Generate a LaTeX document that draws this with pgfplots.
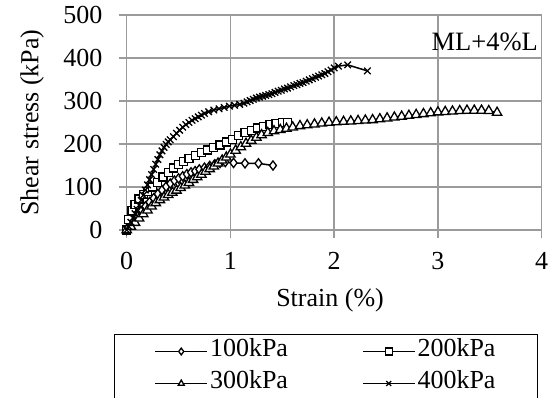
\documentclass[border=0pt]{standalone}
\usepackage{fontspec}
\setmainfont{Liberation Serif}
\usepackage{pgfplots}
\pgfplotsset{compat=1.18}
\definecolor{gridgray}{RGB}{155,155,155}
\begin{document}%
\begin{tikzpicture}[font=\fontsize{26bp}{31bp}\selectfont]
\begin{axis}[
  scale only axis, width=415bp, height=215bp,
  xmin=0, xmax=4, ymin=0, ymax=500,
  xtick={0,1,2,3,4}, ytick={0,100,200,300,400,500},
  font=\fontsize{26bp}{31bp}\selectfont,
  /pgf/number format/assume math mode=true,
  grid=major,
  major grid style={gridgray, line width=1.4bp},
  axis line style={gridgray, line width=1.4bp},
  tick style={gridgray, line width=1.4bp},
  tick align=outside, major tick length=8bp,
  xtick pos=bottom, ytick pos=left,
  yticklabel style={inner sep=0pt, anchor=east, xshift=-16bp},
  xticklabel style={inner sep=0pt, anchor=north, yshift=-14bp},
  xlabel={Strain (\%)}, ylabel={Shear stress (kPa)},
  every axis x label/.style={at={(axis description cs:0.49,-0.3256)}, anchor=center},
  every axis y label/.style={at={(axis description cs:-0.228,0.5)}, rotate=90, anchor=center},
  legend columns=2,
  legend style={draw=black, line width=1bp, fill=white,
    at={(-0.0306,-0.4837)}, anchor=north west,
    inner xsep=40bp, inner ysep=1bp,
    nodes={inner sep=2bp, text height=19bp, text depth=9bp},
    /tikz/every even column/.append style={column sep=72bp}},
  legend cell align=left,
  legend image code/.code={\draw[mark repeat=2,mark phase=2,#1,mark size=3.4bp] plot coordinates {(0bp,0bp) (26bp,0bp) (52bp,0bp)};},
  every axis plot/.append style={black, line width=1.5bp, mark options={solid, fill=white, line width=1.3bp}},
]
\addplot[mark=diamond*, mark size=4.6bp] coordinates {
(0,0) (0.03,10) (0.06,20) (0.1,32) (0.14,44) (0.18,55) (0.22,65) (0.26,74) (0.30,84) (0.34,93) (0.38,101) (0.42,108) (0.46,115) (0.50,120) (0.54,125) (0.58,130) (0.62,134) (0.66,137) (0.70,141) (0.75,145) (0.80,149) (0.85,153) (0.90,156) (0.95,158) (1.03,156) (1.14,155) (1.27,155) (1.41,150)
};
\addlegendentry{100kPa}
\addplot[mark=square*, mark size=4bp] coordinates {
(0,0) (0.02,25) (0.05,45) (0.08,60) (0.12,72) (0.16,82) (0.20,90) (0.25,100) (0.30,110) (0.35,123) (0.40,134) (0.45,144) (0.50,152) (0.55,160) (0.60,167) (0.66,174) (0.72,180) (0.78,186) (0.84,192) (0.90,198) (0.96,205) (1.02,211) (1.08,219) (1.14,226) (1.20,232) (1.26,237) (1.32,241) (1.38,245) (1.44,248) (1.50,250) (1.55,250)
};
\addlegendentry{200kPa}
\addplot[mark=triangle*, mark size=5.4bp] coordinates {
(0,0) (0.04,8) (0.08,17) (0.12,27) (0.16,37) (0.20,46) (0.24,55) (0.28,63) (0.32,70) (0.36,76) (0.40,82) (0.44,87) (0.48,92) (0.52,98) (0.56,104) (0.60,110) (0.64,117) (0.68,123) (0.72,129) (0.76,136) (0.80,142) (0.84,148) (0.88,155) (0.92,162) (0.96,169) (1.00,176) (1.05,185) (1.10,193) (1.15,201) (1.20,208) (1.25,215) (1.30,221) (1.36,226) (1.42,230) (1.48,233) (1.54,236) (1.60,239) (1.67,242) (1.74,244) (1.81,246) (1.88,248) (1.95,250) (2.02,251) (2.09,252) (2.16,253) (2.23,254) (2.30,255) (2.37,256) (2.44,258) (2.51,260) (2.58,262) (2.65,264) (2.72,266) (2.79,268) (2.86,270) (2.93,272) (3.00,274) (3.07,275) (3.14,276) (3.21,277) (3.28,278) (3.35,278) (3.42,278) (3.49,277) (3.57,273)
};
\addlegendentry{300kPa}
\addplot[mark=x, mark size=4.6bp] coordinates {
(0,0) (0.02,8) (0.04,18) (0.06,28) (0.08,38) (0.10,48) (0.12,58) (0.14,69) (0.16,81) (0.18,93) (0.20,105) (0.22,117) (0.24,129) (0.26,141) (0.28,153) (0.30,164) (0.32,175) (0.34,184) (0.36,192) (0.38,199) (0.40,205) (0.42,210) (0.45,217) (0.48,225) (0.51,232) (0.54,239) (0.57,245) (0.60,250) (0.63,255) (0.66,259) (0.69,263) (0.72,267) (0.75,271) (0.79,275) (0.84,279) (0.89,282) (0.94,285) (0.99,288) (1.04,290) (1.09,292) (1.13,295) (1.16,298) (1.19,301) (1.22,304) (1.25,307) (1.28,309) (1.31,311) (1.34,313) (1.37,315) (1.40,317) (1.43,320) (1.46,323) (1.49,325) (1.52,328) (1.55,330) (1.58,333) (1.61,336) (1.64,338) (1.67,341) (1.70,343) (1.73,346) (1.76,349) (1.79,352) (1.82,355) (1.85,358) (1.88,361) (1.91,364) (1.94,368) (1.97,372) (2.00,377) (2.04,381) (2.13,384) (2.32,370)
};
\addlegendentry{400kPa}
\node[anchor=base east, inner sep=0pt, font=\fontsize{26.5bp}{31bp}\selectfont] at (axis cs:3.965,418.6) {ML+4\%L};
\coordinate (O) at (rel axis cs:0,0);
\end{axis}
\pgfresetboundingbox
\useasboundingbox ([shift={(-126.7bp,-168bp)}]O) rectangle ++(555bp,398bp);
\end{tikzpicture}%
\end{document}
